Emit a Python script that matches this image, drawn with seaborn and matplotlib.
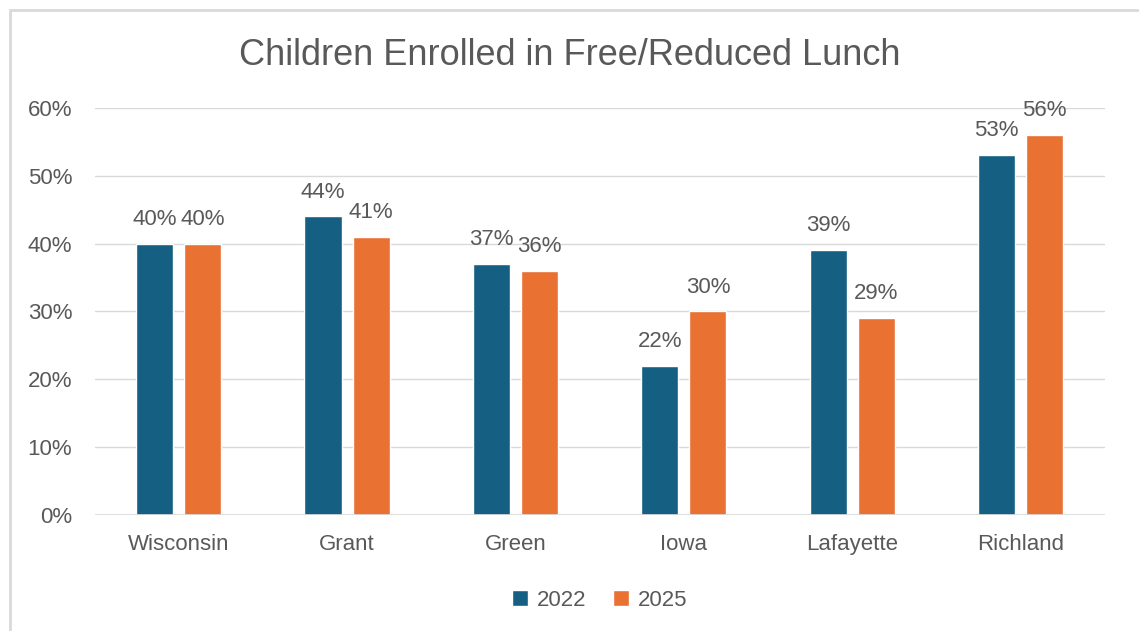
import numpy as np
import pandas as pd
import matplotlib.pyplot as plt
import matplotlib.patches as patches
import matplotlib.ticker as mtick
import seaborn as sns

# data
counties = ['Wisconsin', 'Grant', 'Green', 'Iowa', 'Lafayette', 'Richland']
pct_2022 = [0.40, 0.44, 0.37, 0.22, 0.39, 0.53]
pct_2025 = [0.40, 0.41, 0.36, 0.30, 0.29, 0.56]
years = ['2022', '2025']

df = pd.DataFrame({
    'county': counties * 2,
    'year': [years[0]] * len(counties) + [years[1]] * len(counties),
    'pct': pct_2022 + pct_2025,
})

sns.set_theme(style='white')
plt.rcParams['font.family'] = ['Liberation Sans', 'DejaVu Sans']
txt = '#595959'

fig = plt.figure(figsize=(11.39, 6.31), dpi=100)
ax = fig.add_axes([0.083, 0.184, 0.887, 0.645])

sns.barplot(data=df, x='county', y='pct', hue='year', ax=ax,
            palette=['#156082', '#E97132'], width=0.572, gap=0.23,
            saturation=1, legend=True)

for c in ax.containers:
    ax.bar_label(c, labels=['%d%%' % round(v * 100) for v in c.datavalues],
                 padding=10, fontsize=16, color=txt)

ax.set_ylim(0, 0.6)
ax.set_yticks(np.arange(0, 0.61, 0.1))
ax.yaxis.set_major_formatter(mtick.PercentFormatter(1.0, decimals=0))
ax.grid(axis='y', color='#D9D9D9', lw=1)
ax.set_axisbelow(True)
for s in ax.spines.values():
    s.set_visible(False)
ax.axhline(0, color='#D9D9D9', lw=1.2)
ax.tick_params(axis='both', colors=txt, labelsize=16, length=0)
ax.tick_params(axis='x', pad=14)
ax.tick_params(axis='y', pad=16)
ax.set_xlabel('')
ax.set_ylabel('')

fig.suptitle('Children Enrolled in Free/Reduced Lunch', x=0.5, y=0.94,
             fontsize=26, color=txt)

ax.legend(loc='center', bbox_to_anchor=(0.5, -0.21), ncol=2, frameon=False,
          fontsize=16, labelcolor=txt, handlelength=0.7, handleheight=0.7,
          columnspacing=1.2, handletextpad=0.4)

# chart border
fig.patches.append(patches.Rectangle((10 / 1139, -0.1), 1.2, 1 - 10 / 631 + 0.1,
                                     transform=fig.transFigure, fill=False,
                                     edgecolor='#D9D9D9', lw=2))

fig.savefig('out.png', dpi=100)
